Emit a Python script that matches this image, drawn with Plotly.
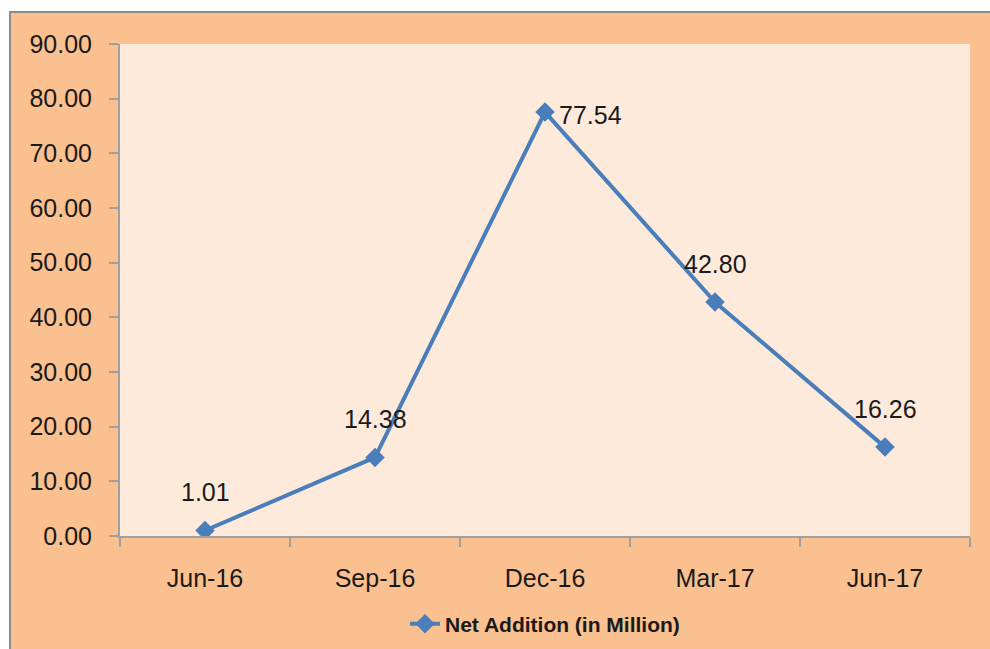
import plotly.graph_objects as go

categories = ["Jun-16", "Sep-16", "Dec-16", "Mar-17", "Jun-17"]
net_addition = [1.01, 14.38, 77.54, 42.80, 16.26]
series_name = "Net Addition (in Million)"

W, H = 990, 649
L, R, T, B = 120, 20, 44, 113
pw, ph = W - L - R, H - T - B

line_color = "#4A7EBB"
font_family = "Liberation Sans, Arial, sans-serif"

fig = go.Figure()
fig.add_trace(go.Scatter(
    x=categories, y=net_addition, mode="lines+markers", name=series_name,
    line=dict(color=line_color, width=4),
    marker=dict(symbol="diamond", size=15, color=line_color),
))

annotations = []
for c, v in zip(categories, net_addition):
    is_peak = v == max(net_addition)
    annotations.append(dict(
        x=c, y=v, xref="x", yref="y", text=f"{v:.2f}", showarrow=False,
        xshift=45 if is_peak else 0, yshift=-3 if is_peak else 38,
        font=dict(family=font_family, size=25, color="#1a1a1a"),
    ))

shapes = [
    dict(type="rect", xref="paper", yref="paper",
         x0=(10 - L) / pw, x1=(W + 40 - L) / pw,
         y0=-(H + 40 - T - ph) / ph, y1=(T + ph - 12) / ph,
         fillcolor="#FAC090", line=dict(color="#8C8C8C", width=2), layer="below"),
    dict(type="rect", xref="paper", yref="paper", x0=0, x1=1, y0=0, y1=1,
         fillcolor="#FDEADA", line=dict(width=0), layer="below"),
]

fig.update_layout(
    width=W, height=H,
    margin=dict(l=L, r=R, t=T, b=B),
    paper_bgcolor="white", plot_bgcolor="rgba(0,0,0,0)",
    shapes=shapes, annotations=annotations,
    font=dict(family=font_family, size=25, color="#1a1a1a"),
    showlegend=True,
    legend=dict(orientation="h", x=0.5, xanchor="center", yref="container",
                y=1 - 624 / H, yanchor="middle",
                font=dict(family=font_family, size=21, color="#1a1a1a", weight="bold"),
                bgcolor="rgba(0,0,0,0)"),
    xaxis=dict(type="category", range=[-0.5, 4.5], showgrid=False, zeroline=False,
               showline=True, linecolor="#A0A0A0", linewidth=2,
               ticks="outside", tickson="boundaries", ticklen=9, tickcolor="#A0A0A0",
               tickwidth=2, ticklabelstandoff=19,
               tickfont=dict(family=font_family, size=25, color="#1a1a1a")),
    yaxis=dict(range=[0, 90], dtick=10, tickformat=".2f", showgrid=False, zeroline=False,
               showline=True, linecolor="#A0A0A0", linewidth=2,
               ticks="outside", ticklen=9, tickcolor="#A0A0A0", tickwidth=2,
               ticklabelstandoff=12,
               tickfont=dict(family=font_family, size=25, color="#1a1a1a")),
)

fig.write_html(
    "out.html",
    config={"displayModeBar": False},
    post_script="document.body.style.margin='0';document.body.style.overflow='hidden';"
                "document.documentElement.style.overflow='hidden';",
)
